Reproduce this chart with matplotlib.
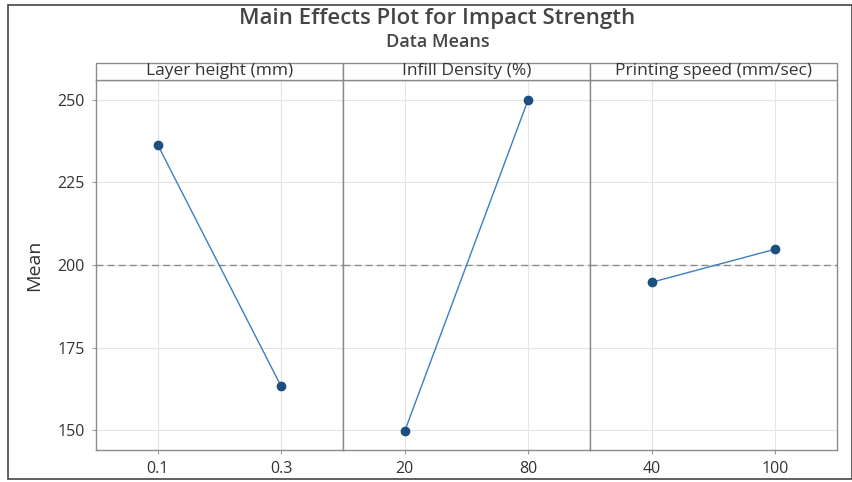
import numpy as np
import matplotlib.pyplot as plt
from matplotlib.patches import Rectangle

plt.rcParams['font.family'] = ['Open Sans', 'DejaVu Sans']

factors = ["Layer height (mm)", "Infill Density (%)", "Printing speed (mm/sec)"]
levels = [["0.1", "0.3"], ["20", "80"], ["40", "100"]]
means = [[236.4, 163.3], [149.7, 250.0], [194.8, 204.8]]
grand_mean = 199.9

fig = plt.figure(figsize=(8.53, 4.82), dpi=100)
left, right, bottom, top = 0.1125, 0.981, 0.066, 0.834
strip_h = 0.036
width = (right - left) / len(factors)

axes = []
for i, (name, lv, m) in enumerate(zip(factors, levels, means)):
    ax = fig.add_axes([left + i * width, bottom, width, top - bottom])
    x = np.arange(len(lv))
    ax.axhline(grand_mean, color="#8c8c8c", ls=(0, (5, 3)), lw=1.0, zorder=2)
    ax.plot(x, m, color="#3b7ec2", lw=1.0, zorder=3)
    ax.plot(x, m, "o", color="#1c4e80", ms=6, zorder=4)
    ax.set_xlim(-0.5, 1.5)
    ax.set_ylim(144, 256)
    ax.set_xticks(x)
    ax.set_xticklabels(lv)
    ax.set_yticks([150, 175, 200, 225, 250])
    ax.grid(True, color="#e4e4e4", lw=0.8, zorder=0)
    ax.tick_params(colors="#333333", labelsize=11.5, length=3, color="#999999", pad=5)
    for s in ax.spines.values():
        s.set_color("#8a8a8a")
        s.set_linewidth(1.0)
    if i > 0:
        ax.tick_params(axis="y", left=False, labelleft=False)
    else:
        ax.set_ylabel("Mean", fontsize=14, color="#333333", labelpad=10)
    # strip label on top of each panel
    sx = left + i * width
    fig.patches.append(Rectangle((sx, top), width, strip_h, transform=fig.transFigure,
                                 facecolor="white", edgecolor="#8a8a8a", lw=1.0))
    fig.text(sx + width / 2, top + strip_h / 2, name, ha="center", va="center",
             fontsize=12.5, color="#333333")
    axes.append(ax)

fig.text(0.513, 0.962, "Main Effects Plot for Impact Strength", ha="center", va="center",
         fontsize=16, fontweight="semibold", color="#454545")
fig.text(0.513, 0.912, "Data Means", ha="center", va="center", fontsize=13,
         fontweight="semibold", color="#454545")

# outer frame of the picture
fig.patches.append(Rectangle((0.009, 0.006), 0.99, 0.984, transform=fig.transFigure,
                             facecolor="none", edgecolor="#444444", lw=1.2))

plt.savefig("out.png", dpi=100)
